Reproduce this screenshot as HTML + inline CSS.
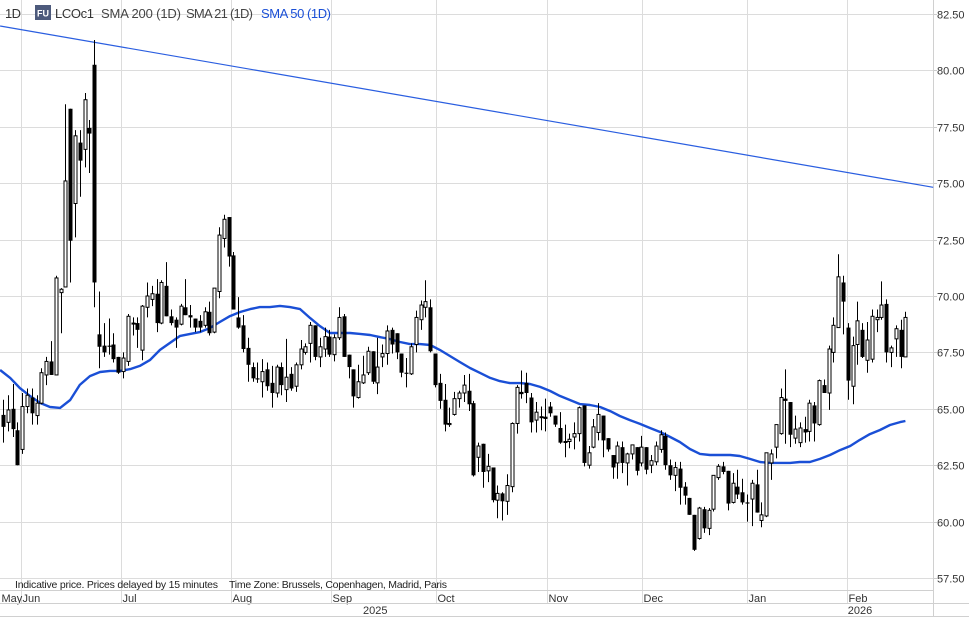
<!DOCTYPE html>
<html><head><meta charset="utf-8">
<style>
html,body{margin:0;padding:0;background:#fff;}
body{width:969px;height:617px;overflow:hidden;font-family:"Liberation Sans",sans-serif;}
svg text{font-family:"Liberation Sans",sans-serif;}
</style></head>
<body>
<svg id="chart" width="969" height="617" viewBox="0 0 969 617" xmlns="http://www.w3.org/2000/svg">
  <g id="grid"></g>
  <g id="yaxis"></g>
  <g id="xaxis"></g>
  <g id="trend"></g>
  <g id="sma"></g>
  <g id="candles"></g>
  <g>
    <text x="5" y="18" font-size="13" fill="#333" textLength="16">1D</text>
    <rect x="35" y="5" width="16" height="15" fill="#4d5a7c"/>
    <text x="43" y="16.5" font-size="9" font-weight="bold" fill="#fff" text-anchor="middle">FU</text>
    <text x="55" y="18" font-size="13" fill="#333" textLength="39">LCOc1</text>
    <text x="101" y="18" font-size="13" fill="#444" textLength="80">SMA 200 (1D)</text>
    <text x="186" y="18" font-size="13" fill="#444" textLength="67">SMA 21 (1D)</text>
    <text x="261" y="18" font-size="13" fill="#1a4fd6" textLength="70">SMA 50 (1D)</text>
  </g>
  <g>
    <text x="15" y="588" font-size="10.5" fill="#222" textLength="203">Indicative price. Prices delayed by 15 minutes</text>
    <text x="229" y="588" font-size="10.5" fill="#222" textLength="218">Time Zone: Brussels, Copenhagen, Madrid, Paris</text>
  </g>
</svg>
<script>
// ---- data ----
const yTicks = [82.5,80,77.5,75,72.5,70,67.5,65,62.5,60,57.5];
const yTickLabels = ["82.50","80.00","77.50","75.00","72.50","70.00","67.50","65.00","62.50","60.00","57.50"];
const monthLabels = ["May","Jun","Jul","Aug","Sep","Oct","Nov","Dec","Jan","Feb"];
const monthStartIdx = [-0.6,3.75,24.6,47.5,68.4,90.2,113.3,133.1,155.0,175.8];
const yearLabels = ["2025","2026"];
const yearIdx = [75,176];
const opens = [64.73,64.4,65.0,64.05,63.2,65.1,65.5,64.7,65.25,66.5,67.1,66.5,70.15,70.4,78.3,74.1,76.8,76.5,77.45,80.25,68.3,67.8,67.8,67.85,67.3,66.65,67.1,68.8,68.8,67.6,69.5,69.85,70.1,68.8,70.45,69.1,68.95,68.75,69.5,69.15,69.0,68.9,68.7,69.3,68.4,70.2,72.55,73.5,71.8,69.05,68.7,67.7,66.85,66.35,66.2,66.75,66.15,65.7,66.85,65.85,66.55,66.0,66.95,67.5,67.9,68.7,67.3,67.65,68.2,67.4,68.15,69.1,67.4,66.75,65.5,66.15,66.6,67.55,66.15,67.3,67.45,68.5,68.35,67.45,66.6,66.55,67.85,68.95,69.5,69.5,67.45,66.15,65.4,64.3,64.75,65.45,65.7,65.8,65.25,62.85,63.45,62.25,62.4,60.95,61.25,60.9,61.55,64.35,65.75,66.15,65.5,64.5,64.65,64.65,65.1,64.7,64.15,63.55,63.55,63.75,63.9,65.15,62.5,63.3,63.95,64.7,63.7,62.95,62.6,63.3,62.6,63.0,63.3,62.6,63.3,62.5,62.65,63.2,63.8,62.5,62.05,62.35,61.55,61.05,60.3,59.25,60.55,59.7,60.55,61.95,62.45,62.25,60.85,61.55,61.3,60.85,61.0,61.65,60.05,60.25,62.6,63.3,63.9,65.45,65.3,63.7,63.5,64.1,64.0,65.15,64.3,66.05,65.7,67.5,68.6,70.6,68.6,66.0,67.85,68.5,67.15,67.2,68.95,69.05,69.65,67.5,68.1,68.5,67.3];
const highs = [65.4,65.6,66.1,64.4,65.7,65.9,65.9,65.6,66.8,67.3,68.0,70.9,70.35,78.5,78.3,77.35,77.35,79.0,77.8,81.35,70.2,68.8,69.0,68.35,67.3,67.5,69.2,69.05,69.05,69.6,70.6,70.45,70.75,70.7,71.5,69.4,69.05,69.65,70.75,69.6,69.0,69.15,69.5,69.75,70.35,73.05,73.6,73.5,71.95,69.95,69.15,68.15,67.05,67.05,67.2,67.05,66.9,66.95,67.05,68.1,66.85,67.05,68.05,67.9,68.85,68.7,68.15,68.6,68.5,68.3,69.5,69.2,67.4,66.75,66.95,67.35,67.75,67.55,68.15,67.85,68.7,68.6,68.35,67.45,67.25,67.9,69.35,69.8,70.7,69.85,67.45,66.55,66.1,65.05,65.75,65.8,66.5,66.55,65.35,63.5,63.45,63.0,62.4,61.6,61.3,62.1,64.4,66.05,66.7,66.6,65.7,65.3,65.1,65.45,65.3,64.7,64.85,64.3,63.9,64.4,65.1,65.15,63.35,64.55,65.25,64.7,63.7,62.95,63.55,63.55,63.05,63.4,63.3,63.8,63.3,62.95,63.55,64.05,63.95,62.75,62.65,62.65,61.75,61.05,60.3,60.65,60.65,60.6,62.05,62.55,62.65,62.25,62.15,62.3,61.9,61.2,61.85,62.3,60.85,63.05,63.2,64.3,65.9,66.75,65.3,64.7,64.4,64.65,65.4,65.3,66.3,66.3,67.8,69.05,71.85,70.9,68.8,68.2,69.75,68.8,68.85,69.4,69.4,70.65,69.85,67.8,68.7,68.95,69.3];
const lows = [63.5,64.0,63.75,62.5,63.0,64.8,64.3,64.3,65.2,66.05,66.5,66.5,68.35,70.4,70.6,72.6,74.4,75.7,75.45,69.5,66.8,67.3,67.4,67.05,66.55,66.35,66.9,68.25,67.7,67.15,69.05,69.55,68.4,68.75,69.1,68.7,67.7,68.7,69.15,68.6,68.4,68.4,68.6,68.25,68.35,69.9,72.15,71.3,69.4,68.55,67.5,66.2,66.2,66.15,65.5,65.8,65.05,65.5,65.6,65.3,65.8,65.75,66.75,67.4,67.05,67.15,66.85,67.3,67.3,67.1,68.05,67.3,66.35,65.05,65.45,66.1,66.5,66.1,65.65,66.85,66.95,67.45,67.2,66.4,65.95,66.5,67.5,68.5,69.05,67.5,65.95,65.0,64.0,64.2,64.7,65.05,65.3,64.9,62.0,62.2,61.5,61.75,60.85,60.15,60.05,60.3,61.3,63.9,65.45,65.25,63.95,63.95,64.05,64.0,64.65,64.2,63.45,62.85,63.25,63.2,63.55,62.45,62.35,63.25,63.6,62.85,63.1,61.9,61.9,62.15,61.6,62.75,62.05,62.45,62.1,62.15,62.5,63.05,62.3,61.85,61.35,60.75,60.75,60.3,58.7,59.2,59.5,59.4,60.45,61.85,62.1,60.5,60.8,61.0,60.75,60.0,59.8,60.4,59.75,60.2,61.85,62.8,63.85,63.45,63.3,63.45,63.3,63.5,63.55,63.55,64.25,65.7,64.95,67.05,68.6,68.3,65.4,65.2,66.95,67.25,66.6,67.05,68.4,68.95,67.05,66.85,67.3,66.8,67.3];
const closes = [64.2,64.95,64.1,62.5,65.1,65.6,64.8,65.25,66.6,67.1,66.5,70.8,70.3,75.1,72.45,77.1,76.0,78.7,77.2,70.6,67.75,67.5,67.75,67.2,66.6,67.25,69.1,68.8,68.5,69.55,70.0,70.1,68.8,70.6,69.1,68.8,68.6,69.55,69.15,69.05,68.6,68.6,69.3,68.35,70.35,72.7,73.4,71.75,69.4,68.6,67.65,66.95,66.35,66.3,66.65,66.0,65.7,66.85,66.05,66.4,65.9,66.95,67.65,67.75,68.7,67.3,67.75,68.2,67.4,68.15,69.05,67.3,66.85,65.55,66.2,66.5,67.55,66.2,66.85,67.45,68.45,67.85,67.5,66.6,66.55,67.75,69.05,69.6,69.75,67.55,66.05,65.35,64.3,64.35,65.45,65.7,66.05,65.2,62.05,63.35,62.2,62.45,60.95,61.25,60.9,61.6,64.35,65.95,65.65,65.7,64.4,64.85,64.65,64.55,64.8,64.3,63.5,63.55,63.65,63.9,65.05,62.6,63.05,64.2,64.75,63.6,63.2,62.4,63.35,62.6,63.0,63.4,62.25,63.3,62.3,62.7,63.35,63.85,62.5,62.05,62.4,61.5,61.15,60.3,58.75,60.6,59.7,60.5,62.05,62.45,62.2,60.8,61.7,61.2,60.85,60.8,61.7,60.4,60.3,63.05,63.0,64.3,65.5,65.35,63.85,64.1,64.15,63.95,65.25,64.35,66.25,65.7,67.65,68.7,70.85,69.75,66.25,67.8,68.9,67.3,68.05,69.1,69.05,69.6,67.5,67.7,68.55,67.3,69.05];
const smaIdx = [-0.6,1.5,3.5,5.6,7.7,9.8,11.9,14.0,16.0,18.1,20.2,22.3,24.4,26.5,28.5,30.6,32.7,34.8,36.9,39.0,41.0,43.1,45.2,47.3,49.4,51.5,53.5,55.6,57.7,59.8,61.9,64.0,66.0,68.1,70.2,72.3,74.4,76.5,78.5,80.6,82.7,84.8,86.9,89.0,91.0,93.1,95.2,97.3,99.4,101.5,103.5,105.6,107.7,109.8,111.9,114.0,116.0,118.1,120.2,122.3,124.4,126.5,128.5,130.6,132.7,134.8,136.9,139.0,141.0,143.1,145.2,147.3,149.4,151.5,153.5,155.6,157.7,159.8,161.9,164.0,166.0,168.1,170.2,172.3,174.4,176.5,178.5,180.6,182.7,184.8,186.9,188.0];
const smaVals = [66.72,66.37,65.92,65.57,65.26,65.08,65.04,65.39,66.06,66.45,66.63,66.68,66.68,66.76,66.90,67.16,67.61,67.92,68.23,68.32,68.40,68.58,68.85,69.11,69.29,69.42,69.51,69.51,69.56,69.51,69.42,69.02,68.67,68.36,68.36,68.36,68.32,68.27,68.18,68.09,67.96,67.87,67.87,67.83,67.61,67.34,67.07,66.81,66.59,66.37,66.23,66.14,66.14,66.10,65.97,65.79,65.57,65.39,65.21,65.17,65.08,64.90,64.68,64.50,64.33,64.15,63.97,63.75,63.53,63.22,63.00,62.95,62.95,62.95,62.91,62.78,62.64,62.60,62.60,62.60,62.64,62.64,62.78,62.95,63.17,63.35,63.62,63.88,64.06,64.28,64.41,64.46];
const trendIdx = [-0.6,193.8];
const trendVals = [81.97,74.82];

// ---- scales ----
const PLOT_R = 933, PLOT_B = 590;
const yScale = p => 14 + (82.5 - p) * 22.56;
const xScale = i => 3 + i * 4.8;
const NS = "http://www.w3.org/2000/svg";
function mk(tag, attrs, parent){
  const e = document.createElementNS(NS, tag);
  for (const k in attrs) e.setAttribute(k, attrs[k]);
  parent.appendChild(e);
  return e;
}
const grid = document.getElementById('grid');
const yaxis = document.getElementById('yaxis');
const xaxis = document.getElementById('xaxis');

yTicks.forEach((t, k) => {
  const y = Math.round(yScale(t)) + 0.5;
  const l = mk('line', {x1:0, x2:PLOT_R, y1:y, y2:y, stroke:'#dcdcdc', 'stroke-width':1}, grid);
  
  
  const tk = mk('line', {x1:PLOT_R, x2:PLOT_R+4, y1:y, y2:y, stroke:'#ccc'}, yaxis);
  
  
  const tx = mk('text', {x:937, y:y+4, 'font-size':11, fill:'#333'}, yaxis);
  tx.textContent = yTickLabels[k];
  
  
});
monthStartIdx.forEach((m, k) => {
  const x = Math.round(xScale(m)) + 0.5;
  if (k > 0) {
    const l = mk('line', {x1:x, x2:x, y1:0, y2:603, stroke:'#dcdcdc'}, grid);
    
    
  }
  const tx = mk('text', {x:Math.max(x+1,1), y:602, 'font-size':11, fill:'#333'}, xaxis);
  tx.textContent = monthLabels[k];
  
  
});
yearLabels.forEach((yl, k) => {
  const tx = mk('text', {x:xScale(yearIdx[k]), y:614, 'font-size':11, fill:'#333'}, xaxis);
  tx.textContent = yl;
  
  
});
[[0,PLOT_R,590.5,590.5],[0,PLOT_R+36,603.5,603.5],[0,PLOT_R+36,616.5,616.5],[PLOT_R+0.5,PLOT_R+0.5,0,617]].forEach(a => {
  const l = mk('line', {x1:a[0], x2:a[1], y1:a[2], y2:a[3], stroke:'#d0d0d0'}, xaxis);
  
  
});

const tp = trendIdx.map((d, k) => xScale(d).toFixed(1) + ',' + yScale(trendVals[k]).toFixed(1)).join(' ');
const tl = mk('polyline', {points:tp, fill:'none', stroke:'#2a5ee0', 'stroke-width':1.2}, document.getElementById('trend'));



const sp = smaIdx.map((d, k) => xScale(d).toFixed(1) + ',' + yScale(smaVals[k]).toFixed(1)).join(' ');
const sl = mk('polyline', {points:sp, fill:'none', stroke:'#1a4fd6', 'stroke-width':2.4, 'stroke-linejoin':'round'}, document.getElementById('sma'));



const cg = document.getElementById('candles');
opens.forEach((o, i) => {
  const c = closes[i], h = highs[i], lo = lows[i];
  const x = Math.round(xScale(i));
  const g = mk('g', {}, cg);
  
  
  mk('line', {x1:x+0.5, x2:x+0.5, y1:yScale(h), y2:yScale(lo), stroke:'#000', 'stroke-width':1}, g);
  const top = yScale(Math.max(o, c)), bot = yScale(Math.min(o, c));
  const ht = Math.max(bot - top, 1);
  if (c >= o) {
    mk('rect', {x:x-1, y:top, width:3, height:ht, fill:'#fff', stroke:'#000', 'stroke-width':1}, g);
  } else {
    mk('rect', {x:x-1.5, y:top, width:4, height:ht, fill:'#000'}, g);
  }
});
</script>
</body></html>
